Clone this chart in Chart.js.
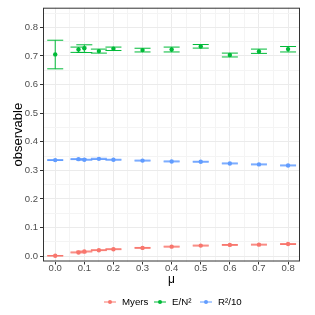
<!DOCTYPE html>
<html>
<head>
<meta charset="utf-8">
<script src="https://cdn.jsdelivr.net/npm/chart.js"></script>
<style>
  html, body { margin: 0; padding: 0; background: #fff; }
  canvas { display: block; }
</style>
</head>
<body>
<canvas id="obsChart" width="315" height="315"></canvas>
<script>
// data
const mu = [0, 0.08, 0.1, 0.15, 0.2, 0.3, 0.4, 0.5, 0.6, 0.7, 0.8];

const myers    = [0.001, 0.0127, 0.016, 0.0206, 0.024, 0.0286, 0.033, 0.0367, 0.039, 0.040, 0.042];
const myersErr = [0.001, 0.0015, 0.0015, 0.0015, 0.0015, 0.0015, 0.0015, 0.0015, 0.0015, 0.0015, 0.0015];

const energy   = [0.7055, 0.7227, 0.727, 0.717, 0.725, 0.7205, 0.7227, 0.733, 0.7035, 0.716, 0.724];
const energyLo = [0.655, 0.7125, 0.712, 0.710, 0.719, 0.714, 0.714, 0.7275, 0.6965, 0.709, 0.714];
const energyHi = [0.755, 0.731, 0.739, 0.724, 0.731, 0.727, 0.731, 0.740, 0.710, 0.724, 0.733];

const radius    = [0.3357, 0.339, 0.337, 0.340, 0.337, 0.334, 0.331, 0.330, 0.324, 0.3206, 0.317];
const radiusErr = [0.0015, 0.0015, 0.0015, 0.002, 0.0015, 0.0015, 0.0015, 0.0015, 0.0015, 0.0015, 0.0015];

const seriesNames = ["Myers", "E/N\u00B2", "R\u00B2/10"];
const seriesColors = ["#F8766D", "#00BA38", "#619CFF"];

const xTicks = [0, 0.1, 0.2, 0.3, 0.4, 0.5, 0.6, 0.7, 0.8];
const yTicks = [0, 0.1, 0.2, 0.3, 0.4, 0.5, 0.6, 0.7, 0.8];

const FONT = "'Liberation Sans', Arial, sans-serif";

function pts(ys) {
  return mu.map((x, i) => ({ x: x, y: ys[i] }));
}

// ticks incl. minor lines halfway between the majors
function withMinor(major, lo, hi) {
  const out = [];
  const step = major[1] - major[0];
  for (let i = 0; i < major.length; i++) {
    const a = major[i];
    if (a >= lo && a <= hi) out.push({ value: a, major: true });
    const m = +(a + step / 2).toFixed(4);
    if (m >= lo && m <= hi) out.push({ value: m, major: false });
  }
  return out.sort((p, q) => p.value - q.value);
}

const errors = [
  { lo: myers.map((v, i) => v - myersErr[i]), hi: myers.map((v, i) => v + myersErr[i]) },
  { lo: energyLo, hi: energyHi },
  { lo: radius.map((v, i) => v - radiusErr[i]), hi: radius.map((v, i) => v + radiusErr[i]) },
];
const capWidth = 0.055;

const errorBarPlugin = {
  id: "errorBars",
  beforeDatasetsDraw(chart) {
    const { ctx, scales: { x, y } } = chart;
    ctx.save();
    ctx.lineWidth = 1;
    errors.forEach((e, s) => {
      ctx.strokeStyle = seriesColors[s];
      mu.forEach((m, i) => {
        const px = x.getPixelForValue(m);
        const x0 = x.getPixelForValue(m - capWidth / 2);
        const x1 = x.getPixelForValue(m + capWidth / 2);
        const yl = y.getPixelForValue(e.lo[i]);
        const yh = y.getPixelForValue(e.hi[i]);
        ctx.beginPath();
        ctx.moveTo(px, yl); ctx.lineTo(px, yh);
        ctx.moveTo(x0, yl); ctx.lineTo(x1, yl);
        ctx.moveTo(x0, yh); ctx.lineTo(x1, yh);
        ctx.stroke();
      });
    });
    ctx.restore();
  },
  afterDraw(chart) {
    const { ctx, chartArea: a } = chart;
    ctx.save();
    // panel border (theme_bw)
    ctx.strokeStyle = "#333333";
    ctx.lineWidth = 1;
    ctx.strokeRect(a.left + 0.5, a.top + 0.5, a.right - a.left - 1, a.bottom - a.top - 1);

    // legend at the bottom
    const ly = 302;
    const keys = [110, 160, 206];
    ctx.font = "9.7px " + FONT;
    ctx.textBaseline = "middle";
    ctx.textAlign = "left";
    seriesNames.forEach((name, i) => {
      const kx = keys[i];
      ctx.strokeStyle = seriesColors[i];
      ctx.fillStyle = seriesColors[i];
      ctx.beginPath();
      ctx.moveTo(kx - 6, ly); ctx.lineTo(kx + 6, ly);
      ctx.stroke();
      ctx.beginPath();
      ctx.arc(kx, ly, 2, 0, Math.PI * 2);
      ctx.fill();
      ctx.fillStyle = "#000";
      ctx.fillText(name, kx + 12, ly);
    });
    ctx.restore();
  }
};

const ctx = document.getElementById("obsChart").getContext("2d");
const chart = new Chart(ctx, {
  type: "scatter",
  data: {
    datasets: [
      { label: seriesNames[0], data: pts(myers), backgroundColor: seriesColors[0], borderColor: seriesColors[0] },
      { label: seriesNames[1], data: pts(energy), backgroundColor: seriesColors[1], borderColor: seriesColors[1] },
      { label: seriesNames[2], data: pts(radius), backgroundColor: seriesColors[2], borderColor: seriesColors[2] },
    ],
  },
  options: {
    responsive: false,
    animation: false,
    layout: { padding: { top: 3, right: 15, bottom: 28, left: 0 } },
    elements: { point: { radius: 2.2, borderWidth: 0, hoverRadius: 2.2 } },
    plugins: { legend: { display: false }, tooltip: { enabled: false } },
    scales: {
      x: {
        type: "linear",
        min: -0.042,
        max: 0.841,
        afterBuildTicks: (s) => { s.ticks = withMinor(xTicks, s.min, s.max); },
        afterFit: (s) => { s.height = 25.5; },
        border: { display: false },
        grid: {
          color: (c) => (c.tick && c.tick.major ? "#EBEBEB" : "#F4F4F4"),
          tickColor: (c) => (c.tick && c.tick.major ? "#333333" : "rgba(0,0,0,0)"),
          tickLength: 3,
        },
        ticks: {
          autoSkip: false,
          maxRotation: 0,
          padding: -1,
          color: "#4D4D4D",
          font: { family: FONT, size: 9.5, lineHeight: 1 },
          callback: function (v, i, ticks) { return ticks[i].major ? v.toFixed(1) : ""; },
        },
        title: { display: true, text: "\u03BC", color: "#000", font: { family: FONT, size: 12 }, padding: { top: 0, bottom: 0 } },
      },
      y: {
        min: -0.019,
        max: 0.8688,
        afterBuildTicks: (s) => { s.ticks = withMinor(yTicks, s.min, s.max); },
        afterFit: (s) => { s.width = 43; },
        border: { display: false },
        grid: {
          color: (c) => (c.tick && c.tick.major ? "#EBEBEB" : "#F4F4F4"),
          tickColor: (c) => (c.tick && c.tick.major ? "#333333" : "rgba(0,0,0,0)"),
          tickLength: 3,
        },
        ticks: {
          autoSkip: false,
          padding: 2,
          color: "#4D4D4D",
          font: { family: FONT, size: 9.5 },
          callback: function (v, i, ticks) { return ticks[i].major ? v.toFixed(1) : ""; },
        },
        title: { display: true, text: "observable", color: "#000", font: { family: FONT, size: 13 }, padding: { top: 11, bottom: 0 } },
      },
    },
  },
  plugins: [errorBarPlugin],
});
</script>
</body>
</html>
